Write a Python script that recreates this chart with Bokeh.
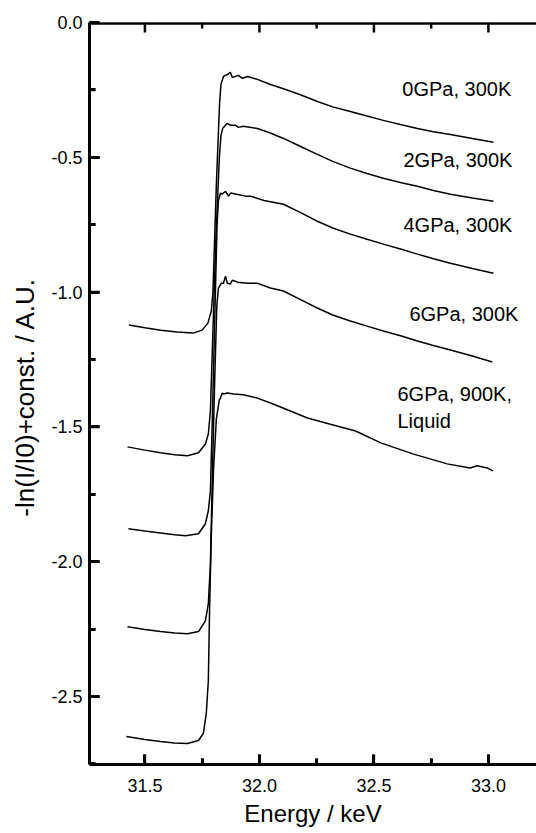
from bokeh.plotting import figure
from bokeh.models import Range1d, SingleIntervalTicker, PrintfTickFormatter, Span, ColumnDataSource
from bokeh.embed import file_html
from bokeh.resources import INLINE

# ---- data ----
x_0gpa = [31.43, 31.50, 31.57, 31.64, 31.71, 31.75, 31.775, 31.79, 31.797, 31.812, 31.826, 31.832,
          31.843, 31.860, 31.873, 31.882, 31.908, 31.926, 31.948, 31.991, 32.048, 32.105, 32.179,
          32.253, 32.32, 32.397, 32.47, 32.541, 32.62, 32.69, 32.76, 32.834, 32.93, 33.022]
y_0gpa = [-1.122, -1.132, -1.141, -1.148, -1.152, -1.141, -1.115, -1.07, -1.00, -0.60, -0.30, -0.23,
          -0.200, -0.193, -0.185, -0.204, -0.196, -0.207, -0.200, -0.211, -0.230, -0.246, -0.268,
          -0.293, -0.313, -0.330, -0.347, -0.363, -0.379, -0.393, -0.405, -0.415, -0.430, -0.444]

x_2gpa = [31.424, 31.50, 31.568, 31.63, 31.686, 31.734, 31.764, 31.777, 31.786, 31.795, 31.810, 31.825,
          31.832, 31.840, 31.860, 31.873, 31.895, 31.908, 31.93, 31.991, 32.048, 32.105, 32.18, 32.253,
          32.32, 32.397, 32.47, 32.541, 32.62, 32.69, 32.76, 32.834, 32.93, 33.022]
y_2gpa = [-1.574, -1.586, -1.596, -1.603, -1.607, -1.596, -1.563, -1.526, -1.44, -1.20, -0.80, -0.50,
          -0.42, -0.392, -0.374, -0.381, -0.381, -0.389, -0.385, -0.393, -0.410, -0.430, -0.460, -0.489,
          -0.515, -0.540, -0.560, -0.578, -0.594, -0.607, -0.623, -0.637, -0.651, -0.663]

x_4gpa = [31.428, 31.50, 31.568, 31.63, 31.677, 31.734, 31.764, 31.777, 31.786, 31.795, 31.805, 31.815,
          31.821, 31.830, 31.838, 31.852, 31.865, 31.875, 31.90, 31.94, 31.961, 32.02, 32.105, 32.18,
          32.253, 32.32, 32.397, 32.47, 32.541, 32.62, 32.69, 32.76, 32.834, 32.93, 33.022]
y_4gpa = [-1.878, -1.886, -1.893, -1.900, -1.904, -1.896, -1.859, -1.811, -1.737, -1.45, -1.10, -0.75,
          -0.66, -0.633, -0.636, -0.626, -0.644, -0.632, -0.637, -0.644, -0.644, -0.660, -0.674, -0.705,
          -0.737, -0.762, -0.785, -0.804, -0.822, -0.841, -0.859, -0.876, -0.893, -0.912, -0.930]

x_6gpa = [31.424, 31.50, 31.568, 31.63, 31.686, 31.734, 31.764, 31.777, 31.786, 31.794, 31.804, 31.814,
          31.821, 31.834, 31.843, 31.852, 31.860, 31.873, 31.882, 31.905, 31.948, 31.991, 32.048, 32.105,
          32.18, 32.253, 32.32, 32.397, 32.47, 32.541, 32.62, 32.69, 32.76, 32.834, 32.93, 33.017]
y_6gpa = [-2.241, -2.251, -2.259, -2.264, -2.267, -2.259, -2.219, -2.156, -2.007, -1.70, -1.35, -1.05,
          -0.985, -0.967, -0.967, -0.941, -0.967, -0.970, -0.956, -0.963, -0.967, -0.967, -0.985, -0.996,
          -1.028, -1.059, -1.085, -1.107, -1.126, -1.144, -1.163, -1.181, -1.198, -1.215, -1.237, -1.259]

x_liq = [31.419, 31.50, 31.568, 31.63, 31.686, 31.734, 31.755, 31.768, 31.777, 31.782, 31.79, 31.80,
         31.812, 31.825, 31.830, 31.838, 31.843, 31.860, 31.887, 31.930, 31.991, 32.06, 32.135, 32.21,
         32.31, 32.42, 32.53, 32.67, 32.82, 32.92, 32.95, 32.995, 33.02]
y_liq = [-2.648, -2.659, -2.667, -2.672, -2.674, -2.663, -2.637, -2.563, -2.441, -2.193, -1.90, -1.65,
         -1.47, -1.40, -1.393, -1.374, -1.378, -1.374, -1.378, -1.381, -1.393, -1.415, -1.441, -1.467,
         -1.490, -1.515, -1.559, -1.600, -1.637, -1.652, -1.644, -1.652, -1.663]

label_texts = ["0GPa, 300K", "2GPa, 300K", "4GPa, 300K", "6GPa, 300K", "6GPa, 900K,", "Liquid"]
label_x = [32.624, 32.629, 32.629, 32.655, 32.603, 32.603]
label_y = [-0.248, -0.511, -0.752, -1.081, -1.378, -1.478]

# tick positions
x_major = [31.5, 32.0, 32.5, 33.0]
x_minor = [31.75, 32.25, 32.75]
y_major = [0.0, -0.5, -1.0, -1.5, -2.0, -2.5]
y_minor = [-0.25, -0.75, -1.25, -1.75, -2.25]

X0, X1 = 31.258, 33.21
Y0, Y1 = -2.752, 0.0

# tick lengths in data units (~10 px major, ~6 px minor)
XT_MAJ, XT_MIN = 0.037, 0.022   # vertical ticks on the x axes (y units)
YT_MAJ, YT_MIN = 0.044, 0.026   # horizontal ticks on the y axis (x units)
EDGE = 0.004                     # keep edge lines just inside the frame

p = figure(frame_width=447, frame_height=742,
           x_range=Range1d(X0, X1), y_range=Range1d(Y0, Y1),
           output_backend="svg", toolbar_location=None,
           min_border_left=89, min_border_top=22, min_border_right=0, min_border_bottom=10)
p.outline_line_color = None
p.grid.visible = False

for xs, ys in [(x_0gpa, y_0gpa), (x_2gpa, y_2gpa), (x_4gpa, y_4gpa), (x_6gpa, y_6gpa), (x_liq, y_liq)]:
    p.line(xs, ys, line_color="black", line_width=1.5)

def style_axis(ax):
    ax.ticker = SingleIntervalTicker(interval=0.5, num_minor_ticks=2)
    ax.formatter = PrintfTickFormatter(format="%.1f")
    ax.axis_line_width = 3
    ax.axis_line_color = "black"
    ax.major_tick_in = 10
    ax.major_tick_out = 0
    ax.minor_tick_in = 6
    ax.minor_tick_out = 0
    ax.major_tick_line_width = 3
    ax.minor_tick_line_width = 3
    ax.major_tick_line_color = "black"
    ax.minor_tick_line_color = "black"
    ax.major_label_text_color = "black"
    ax.major_label_text_font_size = "18px"

xa = p.xaxis[0]
style_axis(xa)
xa.major_label_standoff = 14
xa.axis_label = "Energy / keV"
xa.axis_label_text_font_size = "24px"
xa.axis_label_text_font_style = "normal"
xa.axis_label_text_color = "black"
xa.axis_label_standoff = 5

ya = p.yaxis[0]
style_axis(ya)
ya.major_label_standoff = 7
ya.axis_label = "-ln(I/I0)+const.  / A.U."
ya.axis_label_text_font_size = "26px"
ya.axis_label_text_font_style = "normal"
ya.axis_label_text_color = "black"
ya.axis_label_standoff = 8

# top frame edge
p.add_layout(Span(location=Y1, dimension="width", line_color="black", line_width=3))
p.segment(x0=[X0], y0=[Y1 - EDGE], x1=[X1], y1=[Y1 - EDGE], line_color="black", line_width=2.5)

# inward ticks as segments (bottom, top, left)
SEG = dict(line_color="black", line_width=2.5)
p.segment(x0=x_major, y0=[Y0] * len(x_major), x1=x_major, y1=[Y0 + XT_MAJ] * len(x_major), **SEG)
p.segment(x0=x_minor, y0=[Y0] * len(x_minor), x1=x_minor, y1=[Y0 + XT_MIN] * len(x_minor), **SEG)
p.segment(x0=x_major, y0=[Y1] * len(x_major), x1=x_major, y1=[Y1 - XT_MAJ] * len(x_major), **SEG)
p.segment(x0=x_minor, y0=[Y1] * len(x_minor), x1=x_minor, y1=[Y1 - XT_MIN] * len(x_minor), **SEG)
p.segment(x0=[X0] * len(y_major), y0=y_major, x1=[X0 + YT_MAJ] * len(y_major), y1=y_major, **SEG)
p.segment(x0=[X0] * len(y_minor), y0=y_minor, x1=[X0 + YT_MIN] * len(y_minor), y1=y_minor, **SEG)

# curve annotations as a text glyph
labels = ColumnDataSource(dict(x=label_x, y=label_y, text=label_texts))
p.text(x="x", y="y", text="text", source=labels, text_font_size="20px",
       text_baseline="middle", text_align="left", text_color="black")

open("out.html", "w").write(file_html(p, INLINE))
